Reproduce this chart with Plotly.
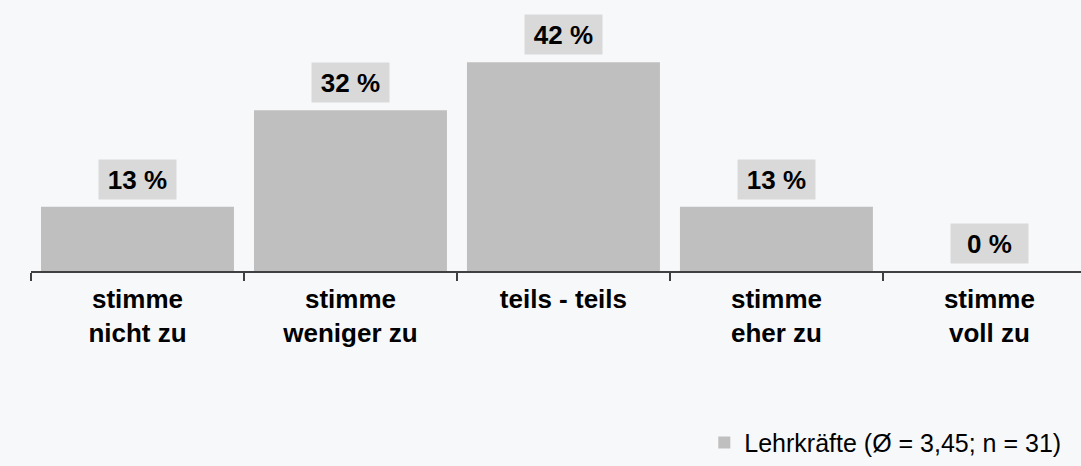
import plotly.graph_objects as go

categories = ["stimme<br>nicht zu", "stimme<br>weniger zu", "teils - teils", "stimme<br>eher zu", "stimme<br>voll zu"]
values = [12.9, 32.3, 41.9, 12.9, 0.0]
series_name = "Lehrkräfte (Ø = 3,45; n = 31)"
value_labels = [f"{round(v)} %" for v in values]

FONT = "Arial, Liberation Sans, sans-serif"
BG = "#f7f8fa"

fig = go.Figure()
fig.add_trace(go.Bar(
    x=categories, y=values, name=series_name,
    marker=dict(color="#bfbfbf", line=dict(width=0)),
    width=0.906, showlegend=True,
))

for c, v, t in zip(categories, values, value_labels):
    fig.add_annotation(
        x=c, y=v, text=f"<b>{t}</b>", showarrow=False,
        xref="x", yref="y", yanchor="bottom", yshift=7,
        bgcolor="#d9d9d9", borderpad=6, width=65, height=27,
        font=dict(family=FONT, size=26, color="#000000"),
    )

fig.update_layout(
    width=1081, height=466,
    margin=dict(l=31, r=0, t=22, b=189),
    paper_bgcolor=BG, plot_bgcolor=BG,
    font=dict(family=FONT, color="#000000"),
    showlegend=True,
    legend=dict(
        x=0.986, xanchor="right", y=-0.69, yanchor="middle",
        font=dict(family=FONT, size=25, color="#000000"),
        bgcolor="rgba(0,0,0,0)", itemwidth=30,
    ),
    xaxis=dict(
        type="category", range=[-0.5, 4.43],
        showline=True, linecolor="#404040", linewidth=1.5,
        ticks="outside", tickson="boundaries", ticklen=8, tickcolor="#404040", tickwidth=1.5,
        ticklabelstandoff=4,
        tickfont=dict(family=FONT, size=26, color="#000000"),
        showgrid=False, zeroline=False, fixedrange=True,
    ),
    yaxis=dict(
        range=[0, 50], visible=False, showgrid=False, zeroline=False, fixedrange=True,
    ),
)
fig.update_xaxes(tickprefix="<b>", ticksuffix="</b>")

fig.write_html(
    "out.html",
    config={"displayModeBar": False},
    post_script="document.body.style.margin='0px';document.body.style.padding='0px';document.body.style.overflow='hidden';",
)
